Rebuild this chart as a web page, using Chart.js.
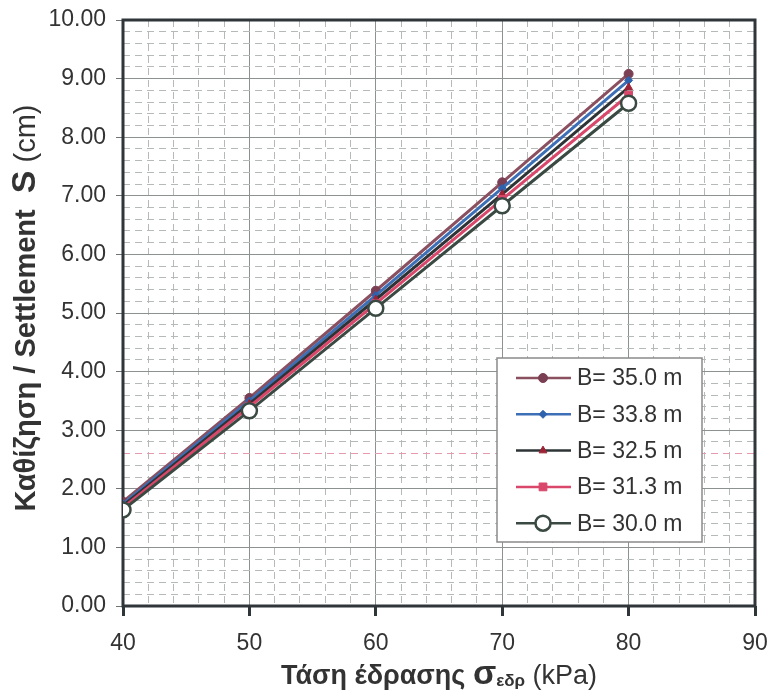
<!DOCTYPE html>
<html>
<head>
<meta charset="utf-8">
<script src="https://cdn.jsdelivr.net/npm/chart.js@4/dist/chart.umd.min.js"></script>
<style>
  html, body { margin: 0; padding: 0; background: #fff; }
  canvas { display: block; }
</style>
</head>
<body>
<canvas id="chart" width="767" height="693"></canvas>
<script>
// Settlement vs bearing pressure
var pressures = [40, 50, 60, 70, 80];
var sB350 = [1.78, 3.55, 5.38, 7.23, 9.08];
var sB338 = [1.74, 3.50, 5.30, 7.13, 8.97];
var sB325 = [1.71, 3.45, 5.23, 7.03, 8.85];
var sB313 = [1.68, 3.40, 5.16, 6.94, 8.72];
var sB300 = [1.64, 3.33, 5.08, 6.83, 8.58];
var seriesLabels = ['B= 35.0 m', 'B= 33.8 m', 'B= 32.5 m', 'B= 31.3 m', 'B= 30.0 m'];

var FONT = '"Liberation Sans", Arial, Helvetica, sans-serif';

function pts(ys) {
  return pressures.map(function(x, i) {
    return { x: x, y: ys[i] };
  });
}

function isMajor(v, step) {
  var r = v / step;
  return Math.abs(r - Math.round(r)) < 1e-6;
}

var datasets = [
  { label: seriesLabels[0], data: pts(sB350), borderColor: '#8a5060', backgroundColor: '#7a3f52',
    pointStyle: 'circle', pointRadius: 4.5, pointBorderWidth: 1, pointBorderColor: '#7a3f52' },
  { label: seriesLabels[1], data: pts(sB338), borderColor: '#3d6fb6', backgroundColor: '#2f62ad',
    pointStyle: 'rectRot', pointRadius: 4, pointBorderWidth: 1, pointBorderColor: '#2f62ad' },
  { label: seriesLabels[2], data: pts(sB325), borderColor: '#2e3436', backgroundColor: '#9b2335',
    pointStyle: 'triangle', pointRadius: 4.5, pointBorderWidth: 1, pointBorderColor: '#9b2335' },
  { label: seriesLabels[3], data: pts(sB313), borderColor: '#d9486a', backgroundColor: '#d9486a',
    pointStyle: 'rect', pointRadius: 5.5, pointBorderWidth: 1, pointBorderColor: '#d9486a' },
  { label: seriesLabels[4], data: pts(sB300), borderColor: '#3a4a43', backgroundColor: '#ffffff',
    pointStyle: 'circle', pointRadius: 7.5, pointBorderWidth: 2.5, pointBorderColor: '#3a4a43' }
];
datasets.forEach(function(ds, i) {
  ds.borderWidth = 3;
  ds.fill = false;
  ds.tension = 0;
  ds.order = datasets.length - 1 - i;
  ds.pointBackgroundColor = ds.backgroundColor;
  ds.pointHoverRadius = ds.pointRadius;
});

function drawRuns(ctx, runs, x, y, align) {
  var total = 0;
  runs.forEach(function(r) {
    ctx.font = r.font;
    r.w = ctx.measureText(r.text).width;
    total += r.w;
  });
  var cx = align === 'center' ? x - total / 2 : x;
  ctx.textAlign = 'left';
  ctx.textBaseline = 'alphabetic';
  runs.forEach(function(r) {
    ctx.font = r.font;
    ctx.fillText(r.text, cx, y + (r.dy || 0));
    cx += r.w;
  });
}

var framePlugin = {
  id: 'frame',
  beforeDatasetsDraw: function(chart) {
    var a = chart.chartArea, ctx = chart.ctx;
    ctx.save();
    ctx.strokeStyle = '#2f3538';
    ctx.lineWidth = 3;
    ctx.strokeRect(a.left, a.top, a.right - a.left, a.bottom - a.top);
    ctx.restore();
  },
  afterDraw: function(chart) {
    var ctx = chart.ctx, a = chart.chartArea;
    ctx.save();
    ctx.fillStyle = '#333333';

    // x title
    drawRuns(ctx, [
      { text: 'Τάση έδρασης ', font: 'bold 27px ' + FONT },
      { text: 'σ', font: 'bold 34px ' + FONT },
      { text: 'εδρ', font: 'bold 17px ' + FONT, dy: 2 },
      { text: ' (kPa)', font: '27px ' + FONT }
    ], (a.left + a.right) / 2, 684, 'center');

    // y title, rotated
    ctx.translate(35, 308);
    ctx.rotate(-Math.PI / 2);
    drawRuns(ctx, [
      { text: 'Καθίζηση / Settlement  ', font: 'bold 29px ' + FONT },
      { text: 'S', font: 'bold 34px ' + FONT },
      { text: ' (cm)', font: '29px ' + FONT }
    ], 0, 0, 'center');
    ctx.restore();

    // legend box
    var box = { x: 497, y: 358, w: 205, h: 184 };
    ctx.save();
    ctx.fillStyle = '#ffffff';
    ctx.fillRect(box.x, box.y, box.w, box.h);
    ctx.strokeStyle = '#8a8a8a';
    ctx.lineWidth = 1.5;
    ctx.strokeRect(box.x, box.y, box.w, box.h);
    chart.data.datasets.forEach(function(ds, i) {
      var cy = 378 + i * 36.3;
      ctx.strokeStyle = ds.borderColor;
      ctx.lineWidth = 2.5;
      ctx.beginPath();
      ctx.moveTo(516, cy);
      ctx.lineTo(571, cy);
      ctx.stroke();
      ctx.fillStyle = ds.pointBackgroundColor;
      ctx.strokeStyle = ds.pointBorderColor;
      ctx.lineWidth = ds.pointBorderWidth;
      Chart.helpers.drawPoint(ctx, {
        pointStyle: ds.pointStyle, radius: ds.pointRadius, rotation: 0, borderWidth: ds.pointBorderWidth
      }, 543, cy);
      ctx.fillStyle = '#333333';
      ctx.font = '23px ' + FONT;
      ctx.textAlign = 'left';
      ctx.textBaseline = 'middle';
      ctx.fillText(ds.label, 577, cy + 1);
    });
    ctx.restore();
  }
};

new Chart(document.getElementById('chart'), {
  type: 'line',
  data: { datasets: datasets },
  options: {
    responsive: false,
    animation: false,
    layout: { padding: { top: 20, right: 12, left: 0, bottom: 0 } },
    plugins: { legend: { display: false }, tooltip: { enabled: false } },
    scales: {
      x: {
        type: 'linear',
        min: 40,
        max: 90,
        afterFit: function(scale) {
          scale.height = 87;
          scale.paddingLeft = 0;
          scale.paddingRight = 0;
        },
        border: {
          display: false,
          dash: function(c) { return isMajor(c.tick.value, 10) ? [] : [7, 5]; }
        },
        grid: {
          color: function(c) { return isMajor(c.tick.value, 10) ? '#8c9290' : '#b5b9b8'; },
          lineWidth: 1,
          tickLength: 10,
          tickColor: function(c) { return isMajor(c.tick.value, 10) ? '#2f3538' : 'rgba(0,0,0,0)'; },
          tickWidth: 3
        },
        ticks: {
          stepSize: 2,
          autoSkip: false,
          maxRotation: 0,
          padding: 14,
          color: '#333333',
          font: { family: FONT, size: 23 },
          callback: function(v) { return isMajor(v, 10) ? String(v) : ''; }
        }
      },
      y: {
        min: 0,
        max: 10,
        afterFit: function(scale) {
          scale.width = 123;
          scale.paddingTop = 0;
          scale.paddingBottom = 0;
        },
        border: {
          display: false,
          dash: function(c) { return isMajor(c.tick.value, 1) ? [] : [7, 5]; }
        },
        grid: {
          color: function(c) {
            if (isMajor(c.tick.value, 1)) return '#8c9290';
            if (Math.abs(c.tick.value - 2.6) < 1e-6) return '#e79aae';
            return '#b5b9b8';
          },
          lineWidth: 1,
          tickLength: 7,
          tickColor: function(c) { return isMajor(c.tick.value, 1) ? '#6f7573' : 'rgba(0,0,0,0)'; }
        },
        ticks: {
          stepSize: 0.2,
          autoSkip: false,
          padding: 10,
          color: '#333333',
          font: { family: FONT, size: 23 },
          callback: function(v) { return isMajor(v, 1) ? v.toFixed(2) : ''; }
        }
      }
    }
  },
  plugins: [framePlugin]
});
</script>
</body>
</html>
